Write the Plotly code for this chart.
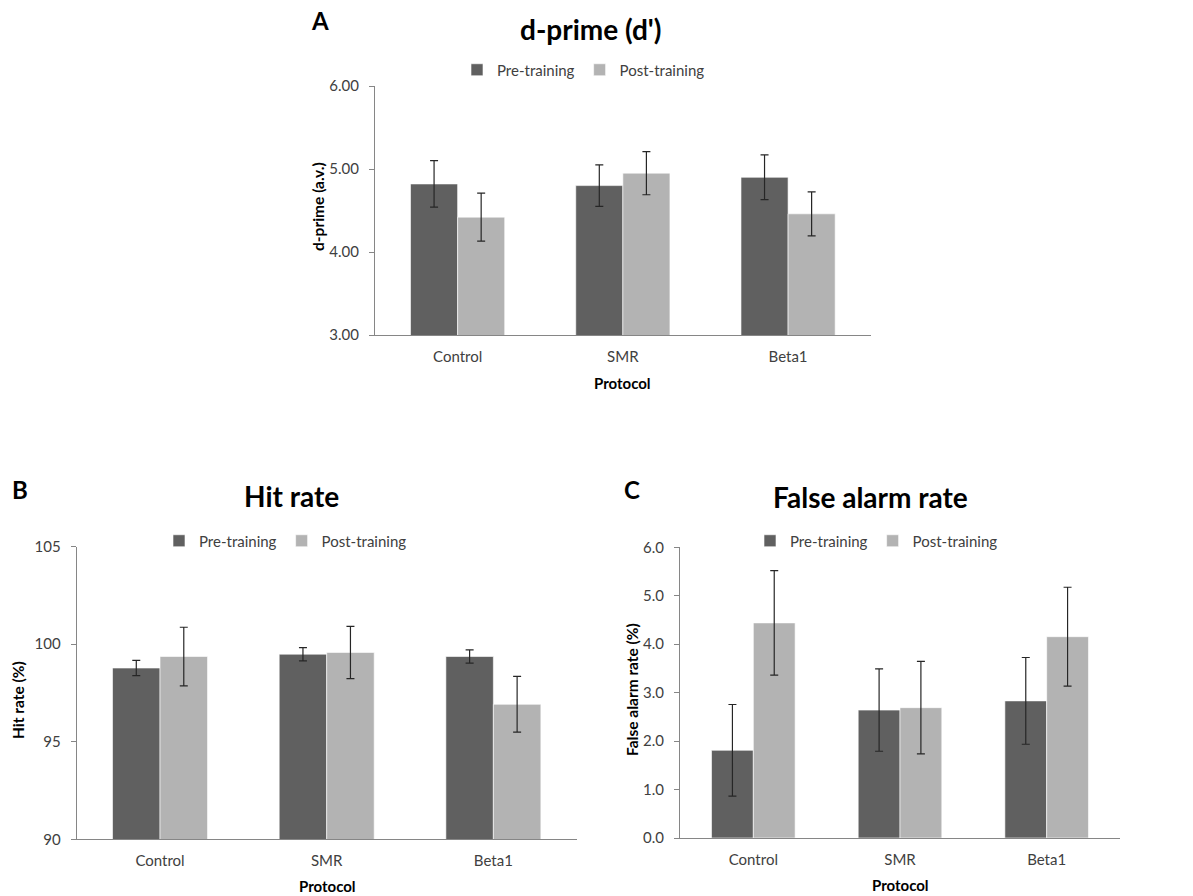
import plotly.graph_objects as go

# Protocol groups and series
protocols = ["Control", "SMR", "Beta1"]
series_names = ["Pre-training", "Post-training"]
series_colors = ["#606060", "#b3b3b3"]

# d-prime (a.v.)
dprime_pre = [4.82, 4.80, 4.90]
dprime_pre_err = [0.28, 0.25, 0.27]
dprime_post = [4.42, 4.95, 4.46]
dprime_post_err = [0.29, 0.26, 0.265]

# Hit rate (%)
hit_pre = [98.78, 99.49, 99.37]
hit_pre_err = [0.39, 0.34, 0.34]
hit_post = [99.37, 99.58, 96.92]
hit_post_err = [1.50, 1.34, 1.43]

# False alarm rate (%)
fa_pre = [1.81, 2.64, 2.83]
fa_pre_err = [0.945, 0.85, 0.895]
fa_post = [4.44, 2.69, 4.155]
fa_post_err = [1.08, 0.955, 1.02]

W, H = 1193, 896
FONT = "Lato"
AXIS_GRAY = "#868686"
TEXT_GRAY = "#404040"


def px_x(x):
    return x / W


def px_y(y):
    return 1 - y / H


fig = go.Figure()

panels = [
    # (axis suffix, legend name, pre, pre_err, post, post_err)
    ("", "legend", dprime_pre, dprime_pre_err, dprime_post, dprime_post_err),
    ("2", "legend2", hit_pre, hit_pre_err, hit_post, hit_post_err),
    ("3", "legend3", fa_pre, fa_pre_err, fa_post, fa_post_err),
]

for suffix, leg, pre, pre_err, post, post_err in panels:
    for name, color, vals, errs in [
        (series_names[0], series_colors[0], pre, pre_err),
        (series_names[1], series_colors[1], post, post_err),
    ]:
        fig.add_trace(go.Bar(
            x=protocols, y=vals, name=name,
            marker=dict(color=color, line=dict(color="white", width=0.6)),
            error_y=dict(type="data", array=errs, visible=True,
                         color="#262626", thickness=1.2, width=4),
            xaxis="x" + suffix, yaxis="y" + suffix, legend=leg,
        ))

tick_font = dict(family=FONT, size=15, color=TEXT_GRAY)


def xaxis_cfg(x0, x1, anchor):
    return dict(domain=[px_x(x0), px_x(x1)], anchor=anchor, automargin=False,
                showline=True, linecolor=AXIS_GRAY, linewidth=1,
                ticks="", showgrid=False, zeroline=False,
                tickfont=tick_font, ticklabelstandoff=8, fixedrange=True)


def yaxis_cfg(y_top, y_bot, anchor, rng, dtick, fmt):
    return dict(domain=[px_y(y_bot), px_y(y_top)], anchor=anchor,
                automargin=False,
                range=rng, dtick=dtick, tick0=rng[0], tickformat=fmt,
                showline=True, linecolor=AXIS_GRAY, linewidth=1,
                ticks="outside", ticklen=5, tickcolor=AXIS_GRAY,
                showgrid=False, zeroline=False,
                tickfont=tick_font, ticklabelstandoff=7, fixedrange=True)


fig.update_layout(
    width=W, height=H,
    margin=dict(l=0, r=0, t=0, b=0, autoexpand=False),
    paper_bgcolor="white", plot_bgcolor="white",
    barmode="group", bargap=0.43, bargroupgap=0,
    font=dict(family=FONT, color=TEXT_GRAY),
    xaxis=xaxis_cfg(375, 870.7, "y"),
    yaxis=yaxis_cfg(86, 335, "x", [3, 6], 1, ".2f"),
    xaxis2=xaxis_cfg(76.7, 576.7, "y2"),
    yaxis2=yaxis_cfg(546.7, 839.3, "x2", [90, 105], 5, "d"),
    xaxis3=xaxis_cfg(680, 1120, "y3"),
    yaxis3=yaxis_cfg(547.3, 838, "x3", [0, 6], 1, ".1f"),
)

legend_common = dict(orientation="h", xanchor="left", yanchor="middle",
                     font=dict(family=FONT, size=15, color=TEXT_GRAY),
                     bgcolor="rgba(0,0,0,0)", traceorder="normal",
                     itemclick=False, itemdoubleclick=False)
fig.update_layout(
    legend=dict(x=px_x(457), y=px_y(70), **legend_common),
    legend2=dict(x=px_x(159), y=px_y(541), **legend_common),
    legend3=dict(x=px_x(750), y=px_y(541), **legend_common),
)

annotations = []


def text(x, y, s, size, bold=True, color="black", angle=0):
    annotations.append(dict(
        x=px_x(x), y=px_y(y), xref="paper", yref="paper",
        text=f"<b>{s}</b>" if bold else s, showarrow=False,
        xanchor="center", yanchor="middle", textangle=angle,
        font=dict(family=FONT, size=size, color=color)))


# Panel letters
text(320, 20, "A", 24)
text(20, 489, "B", 24)
text(632, 489, "C", 24)

# Panel titles
text(590, 29, "d-prime (d')", 28)
text(291, 496, "Hit rate", 28)
text(870, 497, "False alarm rate", 28)

# Axis titles
text(623, 383, "Protocol", 15)
text(327, 886, "Protocol", 15)
text(900, 885, "Protocol", 15)
text(318, 207, "d-prime (a.v.)", 15.5, angle=-90)
text(18, 700, "Hit rate (%)", 15.5, angle=-90)
text(632, 690, "False alarm rate (%)", 15.5, angle=-90)

fig.update_layout(annotations=annotations)

fig.write_html("out.html")
